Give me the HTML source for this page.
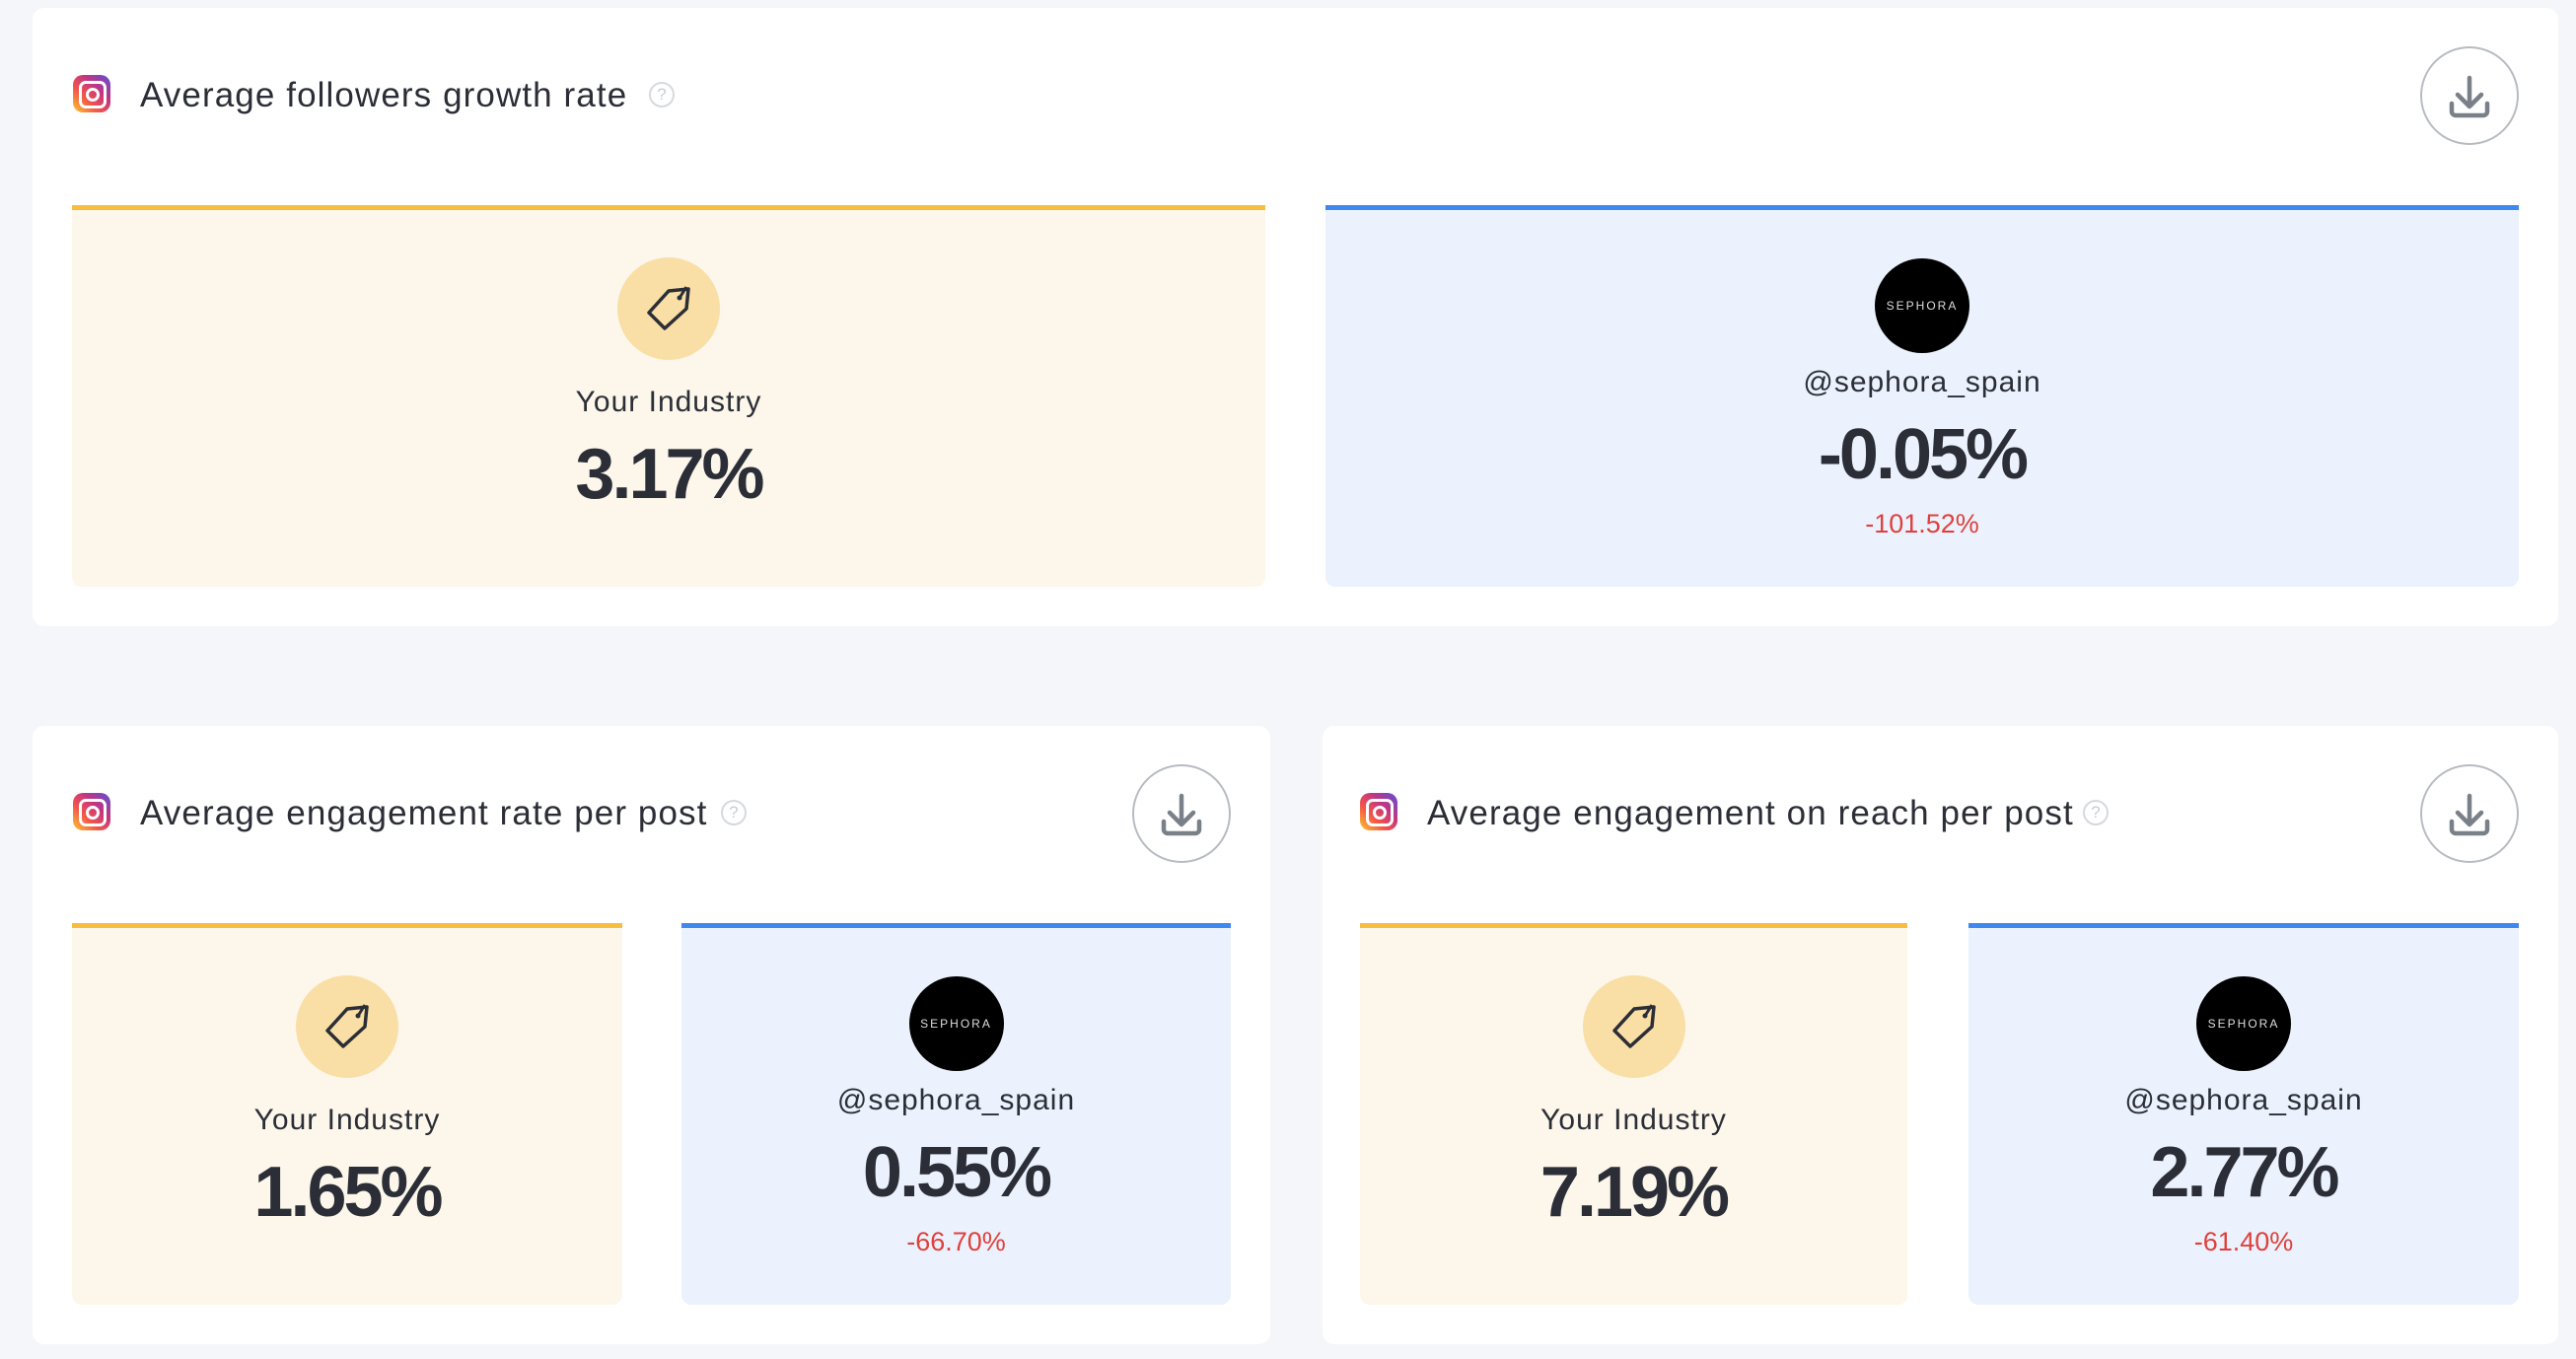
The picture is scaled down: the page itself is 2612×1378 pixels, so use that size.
<!DOCTYPE html>
<html><head><meta charset="utf-8"><style>
*{box-sizing:border-box;margin:0;padding:0}
body{width:2612px;height:1378px;background:#f4f6fa;position:relative;overflow:hidden;font-family:"Liberation Sans",sans-serif;color:#2b2e36}
.card{position:absolute;background:#fff;border-radius:12px}
.title{position:absolute;font-size:35px;letter-spacing:1.1px;line-height:40px;white-space:nowrap;color:#2b2e36}
.ig{position:absolute;width:38px;height:38px;border-radius:10px;background:linear-gradient(45deg,#fdc830 0%,#f3554a 35%,#c13584 65%,#5b51d8 100%)}
.ig::before{content:"";position:absolute;left:6px;top:6px;width:22px;height:22px;border:3px solid #fff;border-radius:7px}
.ig::after{content:"";position:absolute;left:13px;top:13px;width:8px;height:8px;border:3px solid #fff;border-radius:50%}
.help{position:absolute;width:26px;height:26px;border:2px solid #d6d9de;border-radius:50%;color:#c8ccd2;font-size:17px;line-height:22px;text-align:center}
.dl{position:absolute;width:100px;height:100px;border:2px solid #b8bcc2;border-radius:50%;background:#fff}
.panel{position:absolute;height:387px;border-radius:0 0 10px 10px}
.yel{background:#fcf6eb;border-top:5px solid #f7bd3f}
.blu{background:#ebf2fd;border-top:5px solid #3e88f0}
.c{position:absolute;left:0;right:0;text-align:center;white-space:nowrap}
.tag{position:absolute;width:104px;height:104px;border-radius:50%;background:#f9dfa5;left:50%;margin-left:-52px;top:48px}
.logo{position:absolute;width:96px;height:96px;border-radius:50%;background:#000;left:50%;margin-left:-48px;top:49px;color:#ddd;font-size:12px;letter-spacing:2px;line-height:96px;text-align:center}
.lab{font-size:30px;line-height:36px;letter-spacing:1px}
.val{font-size:72px;font-weight:bold;line-height:80px;letter-spacing:-3px}
.pct{font-size:27px;line-height:32px;color:#e0403c}
</style></head><body>

<div class="card" style="left:33px;top:8px;width:2561px;height:627px">
  <div class="ig" style="left:41px;top:68px"></div>
  <div class="title" style="left:109px;top:69px">Average followers growth rate</div>
  <div class="help" style="left:625px;top:75px">?</div>
  <div class="dl" style="left:2421px;top:39px"><svg width="96" height="96" viewBox="0 0 96 96"><path d="M48 30v28M36 47l12 12 12-12M30 56v8a4 4 0 0 0 4 4h28a4 4 0 0 0 4-4v-8" fill="none" stroke="#7a8088" stroke-width="4.5" stroke-linecap="round" stroke-linejoin="round"/></svg></div>
  <div class="panel yel" style="left:40px;top:200px;width:1210px">
    <div class="tag"><svg width="104" height="104" viewBox="0 0 104 104"><path d="M72 32 L52 34 L32 56 L48 72 L70 52 Z" fill="none" stroke="#2b2e36" stroke-width="3.5" stroke-linejoin="round"/><circle cx="63" cy="41" r="2.5" fill="#2b2e36"/><path d="M63 41 L70 30" stroke="#2b2e36" stroke-width="3"/></svg></div>
    <div class="c lab" style="top:177px">Your Industry</div>
    <div class="c val" style="top:228px">3.17%</div>
  </div>
  <div class="panel blu" style="left:1311px;top:200px;width:1210px">
    <div class="logo">SEPHORA</div>
    <div class="c lab" style="top:157px">@sephora_spain</div>
    <div class="c val" style="top:208px">-0.05%</div>
    <div class="c pct" style="top:302px">-101.52%</div>
  </div>
</div>

<div class="card" style="left:33px;top:736px;width:1255px;height:627px">
  <div class="ig" style="left:41px;top:68px"></div>
  <div class="title" style="left:109px;top:69px">Average engagement rate per post</div>
  <div class="help" style="left:698px;top:75px">?</div>
  <div class="dl" style="left:1115px;top:39px"><svg width="96" height="96" viewBox="0 0 96 96"><path d="M48 30v28M36 47l12 12 12-12M30 56v8a4 4 0 0 0 4 4h28a4 4 0 0 0 4-4v-8" fill="none" stroke="#7a8088" stroke-width="4.5" stroke-linecap="round" stroke-linejoin="round"/></svg></div>
  <div class="panel yel" style="left:40px;top:200px;width:558px">
    <div class="tag"><svg width="104" height="104" viewBox="0 0 104 104"><path d="M72 32 L52 34 L32 56 L48 72 L70 52 Z" fill="none" stroke="#2b2e36" stroke-width="3.5" stroke-linejoin="round"/><circle cx="63" cy="41" r="2.5" fill="#2b2e36"/><path d="M63 41 L70 30" stroke="#2b2e36" stroke-width="3"/></svg></div>
    <div class="c lab" style="top:177px">Your Industry</div>
    <div class="c val" style="top:228px">1.65%</div>
  </div>
  <div class="panel blu" style="left:658px;top:200px;width:557px">
    <div class="logo">SEPHORA</div>
    <div class="c lab" style="top:157px">@sephora_spain</div>
    <div class="c val" style="top:208px">0.55%</div>
    <div class="c pct" style="top:302px">-66.70%</div>
  </div>
</div>

<div class="card" style="left:1341px;top:736px;width:1253px;height:627px">
  <div class="ig" style="left:38px;top:68px"></div>
  <div class="title" style="left:106px;top:69px">Average engagement on reach per post</div>
  <div class="help" style="left:771px;top:75px">?</div>
  <div class="dl" style="left:1113px;top:39px"><svg width="96" height="96" viewBox="0 0 96 96"><path d="M48 30v28M36 47l12 12 12-12M30 56v8a4 4 0 0 0 4 4h28a4 4 0 0 0 4-4v-8" fill="none" stroke="#7a8088" stroke-width="4.5" stroke-linecap="round" stroke-linejoin="round"/></svg></div>
  <div class="panel yel" style="left:38px;top:200px;width:555px">
    <div class="tag"><svg width="104" height="104" viewBox="0 0 104 104"><path d="M72 32 L52 34 L32 56 L48 72 L70 52 Z" fill="none" stroke="#2b2e36" stroke-width="3.5" stroke-linejoin="round"/><circle cx="63" cy="41" r="2.5" fill="#2b2e36"/><path d="M63 41 L70 30" stroke="#2b2e36" stroke-width="3"/></svg></div>
    <div class="c lab" style="top:177px">Your Industry</div>
    <div class="c val" style="top:228px">7.19%</div>
  </div>
  <div class="panel blu" style="left:655px;top:200px;width:558px">
    <div class="logo">SEPHORA</div>
    <div class="c lab" style="top:157px">@sephora_spain</div>
    <div class="c val" style="top:208px">2.77%</div>
    <div class="c pct" style="top:302px">-61.40%</div>
  </div>
</div>

</body></html>
